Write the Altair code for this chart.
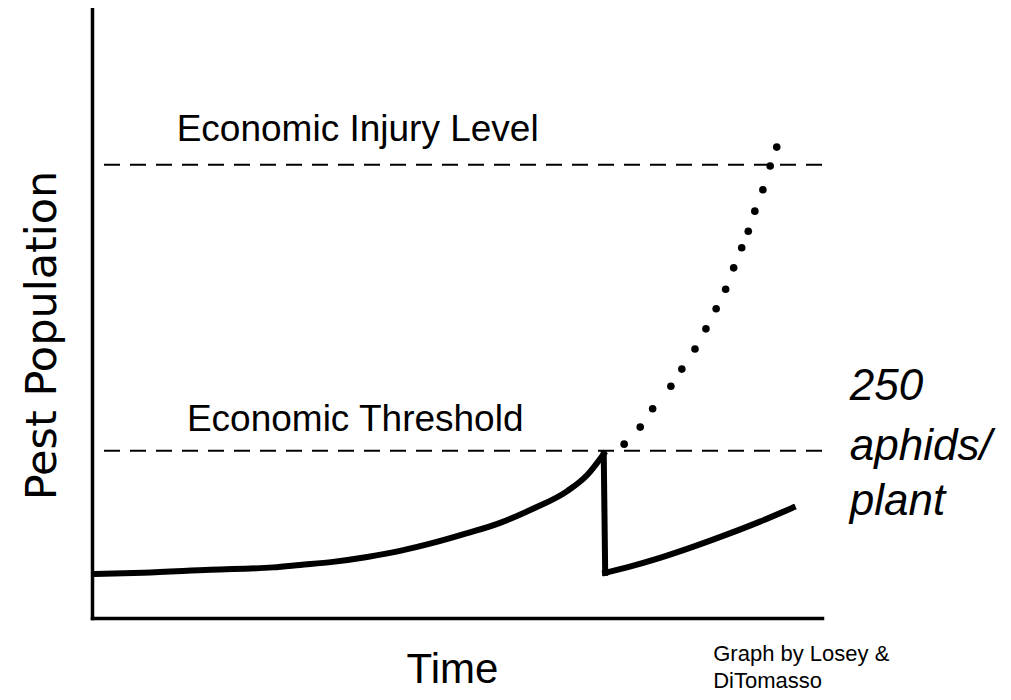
import altair as alt
import pandas as pd

# ---- data (time and population in arbitrary 0-100 units) ----
# segment 0: build-up, segment 1: drop after treatment, segment 2: regrowth
solid_seg = [0] * 15 + [1, 1] + [2] * 7
solid_time = [0.4, 7.0, 16.2, 24.8, 28.5, 33.0, 37.7, 42.2, 46.7, 51.4, 55.9, 60.4, 65.1, 67.8, 70.1,
              70.1, 70.3,
              70.3, 73.3, 77.8, 82.3, 87.0, 91.5, 96.0]
solid_pop = [7.2, 7.4, 7.9, 8.3, 8.7, 9.2, 10.0, 11.0, 12.3, 13.9, 15.6, 17.9, 20.8, 23.4, 26.9,
             26.9, 7.4,
             7.4, 8.3, 9.85, 11.65, 13.7, 15.8, 18.1]

dot_time = [72.9, 75.1, 76.8, 79.3, 80.8, 82.6, 84.1, 85.5, 86.8, 87.9, 89.0, 89.9, 90.8, 91.9, 92.9, 93.8]
dot_pop = [28.5, 31.3, 34.3, 38.0, 40.8, 44.1, 47.4, 50.7, 53.9, 57.4, 60.7, 63.4, 66.7, 70.2, 74.1, 77.2]

level_names = ["Economic Injury Level", "Economic Threshold"]
level_values = [74.3, 27.4]
level_label_time = [11.6, 13.0]
level_label_pop = [78.2, 30.7]

note_lines = ["250", "aphids/", "plant"]
note_time = [103.8, 103.8, 103.8]
note_pop = [35.7, 25.9, 16.9]

credit_lines = ["Graph by Losey &", "DiTomasso"]
credit_time = [85.1, 85.1]
credit_pop = [-7.05, -11.5]

# ---- tables ----
solid_df = pd.DataFrame({"t": solid_time, "p": solid_pop, "seg": solid_seg,
                         "i": list(range(len(solid_time)))})
dots_df = pd.DataFrame({"t": dot_time, "p": dot_pop})
levels_df = pd.DataFrame({"name": level_names, "p": level_values,
                          "lt": level_label_time, "lp": level_label_pop})
note_df = pd.DataFrame({"text": note_lines, "t": note_time, "p": note_pop})
credit_df = pd.DataFrame({"text": credit_lines, "t": credit_time, "p": credit_pop})

xs = alt.Scale(domain=[0, 100], nice=False, zero=False)
ys = alt.Scale(domain=[0, 100], nice=False, zero=False)

x_axis = alt.Axis(title="Time", ticks=False, labels=False, grid=False,
                  domainColor="black", domainWidth=3.5, domainCap="square",
                  titleFont="Liberation Sans", titleFontSize=42, titleFontWeight="normal",
                  titleColor="black", titleX=360, titleY=64, titleAlign="center",
                  titleBaseline="alphabetic")
y_axis = alt.Axis(title="Pest Population", ticks=False, labels=False, grid=False,
                  domainColor="black", domainWidth=3.5, domainCap="square",
                  titleFont="DejaVu Sans", titleFontSize=43, titleFontWeight="normal",
                  titleColor="black", titleAngle=270, titleX=-37, titleY=327,
                  titleAlign="center", titleBaseline="alphabetic")

rules = alt.Chart(levels_df).mark_rule(color="black", strokeWidth=2, strokeDash=[16, 10]).encode(
    y=alt.Y("p:Q", scale=ys, axis=y_axis)
)

solid = alt.Chart(solid_df).mark_line(color="black", strokeWidth=6, strokeCap="square",
                                      interpolate="monotone").encode(
    x=alt.X("t:Q", scale=xs, axis=x_axis),
    y=alt.Y("p:Q", scale=ys),
    detail="seg:N",
    order=alt.Order("i:Q"),
)

dots = alt.Chart(dots_df).mark_point(filled=True, shape="circle", size=58, color="black", opacity=1).encode(
    x=alt.X("t:Q", scale=xs),
    y=alt.Y("p:Q", scale=ys),
)

level_text = alt.Chart(levels_df).mark_text(
    font="Liberation Sans", fontSize=37, align="left", baseline="alphabetic", color="black"
).encode(
    x=alt.X("lt:Q", scale=xs),
    y=alt.Y("lp:Q", scale=ys),
    text="name:N",
)

note_text = alt.Chart(note_df).mark_text(
    font="Liberation Sans", fontSize=44, fontStyle="italic", align="left",
    baseline="alphabetic", color="black"
).encode(
    x=alt.X("t:Q", scale=xs),
    y=alt.Y("p:Q", scale=ys),
    text="text:N",
)

credit_text = alt.Chart(credit_df).mark_text(
    font="Liberation Sans", fontSize=22, align="left", baseline="alphabetic", color="black"
).encode(
    x=alt.X("t:Q", scale=xs),
    y=alt.Y("p:Q", scale=ys),
    text="text:N",
)

chart = alt.layer(rules, solid, dots, level_text, note_text, credit_text).properties(
    width=730, height=610,
    autosize=alt.AutoSizeParams(type="none"),
    padding={"left": 84, "top": 0, "right": 181, "bottom": 74},
    background="white",
).configure_view(stroke=None)

chart.save("out.html", embed_options={"renderer": "svg", "actions": False})
